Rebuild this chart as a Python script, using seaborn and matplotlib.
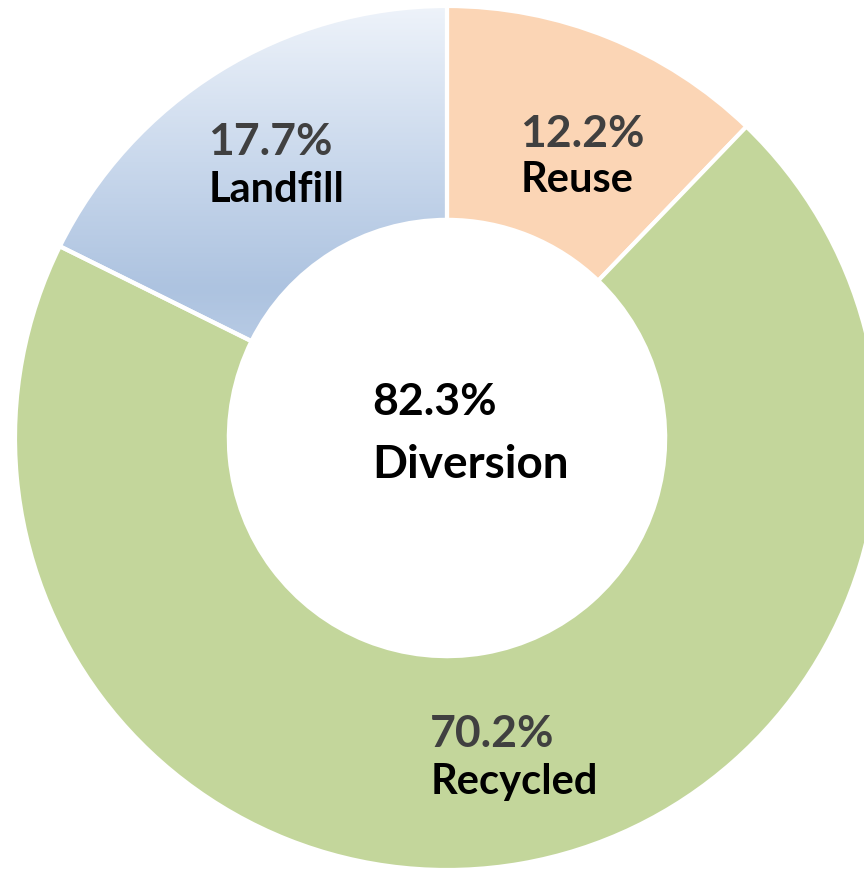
import numpy as np
import matplotlib
matplotlib.use("Agg")
import matplotlib.pyplot as plt
import seaborn as sns
from matplotlib.colors import LinearSegmentedColormap

sns.set_theme(style="white")
plt.rcParams['font.family'] = ['Lato', 'DejaVu Sans']

# ---- data ----
categories = ["Reuse", "Recycled", "Landfill"]
values = [12.2, 70.2, 17.7]
pct_labels = ["12.2%", "70.2%", "17.7%"]
center_value = "82.3%"
center_label = "Diversion"

colors = ["#FBD5B5", "#C3D69B", "none"]

W, H = 864, 871
fig = plt.figure(figsize=(W / 100, H / 100), dpi=100)
fig.patch.set_facecolor("white")

cx, cy, R = 447, 438, 432  # pixel centre / radius of the donut
ax = fig.add_axes([(cx - R) / W, (H - cy - R) / H, 2 * R / W, 2 * R / H])
ax.set_facecolor("white")

wedges, _ = ax.pie(values, colors=colors, startangle=90, counterclock=False,
                   radius=1.0,
                   wedgeprops=dict(width=0.495, edgecolor="white", linewidth=3))

# gradient fill for the landfill wedge
cmap = LinearSegmentedColormap.from_list(
    "landfill", [(0.0, "#B9CCE5"), (0.18, "#ADC3E0"), (0.55, "#C9D8EC"), (1.0, "#EEF3FA")])
grad = np.linspace(0, 1, 256).reshape(-1, 1)
lw = wedges[2]
img = ax.imshow(grad, cmap=cmap, origin="lower", aspect="auto",
                extent=[-1.0, 0.0, 0.2, 1.0], zorder=0.5, interpolation="bicubic")
img.set_clip_path(lw)
lw.set_zorder(1)

ax.set_xlim(-1, 1)
ax.set_ylim(-1, 1)
ax.set_aspect("equal")
ax.axis("off")


def fx(px):
    return px / W


def fy(py):
    return 1 - py / H


gray = "#404040"
# slice labels (left-aligned blocks, baseline positions in pixels)
lab_pos = {"Reuse": (520, 147, 192), "Recycled": (430, 747, 794), "Landfill": (208, 155, 202)}
for cat, pct in zip(categories, pct_labels):
    x, b1, b2 = lab_pos[cat]
    fig.text(fx(x), fy(b1), pct, ha="left", va="baseline", fontsize=32,
             fontweight="bold", color=gray)
    fig.text(fx(x + 1), fy(b2), cat, ha="left", va="baseline", fontsize=30,
             fontweight="bold", color="black")

fig.text(fx(372), fy(415), center_value, ha="left", va="baseline", fontsize=32,
         fontweight="bold", color="black")
fig.text(fx(372), fy(478), center_label, ha="left", va="baseline", fontsize=33,
         fontweight="bold", color="black")

fig.savefig("out.png", dpi=100, facecolor="white")
